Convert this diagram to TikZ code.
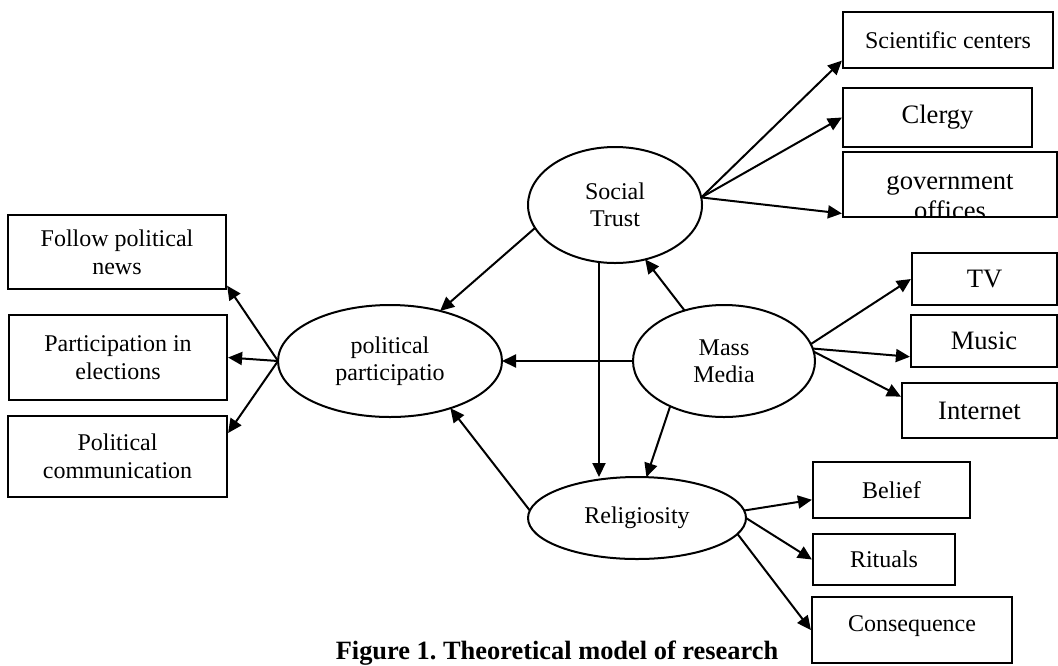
\documentclass[tikz,border=0pt]{standalone}
\usepackage{fontspec}
\setmainfont{Liberation Serif}
\usetikzlibrary{shapes.geometric,arrows.meta}

\begin{document}
\begin{tikzpicture}[x=0.5pt, y=-0.5pt,
    box/.style={draw, line width=1.1pt, inner sep=0pt, align=center, font=\fontsize{12}{14}\selectfont},
    bigbox/.style={box, font=\fontsize{13.3}{15}\selectfont},
    oval/.style={draw, ellipse, line width=1pt, inner sep=0pt, outer sep=0pt, align=center, font=\fontsize{12}{13.5}\selectfont},
    arr/.style={-{Triangle[length=7pt,width=6.5pt]}, line width=1pt}]

            \def\pxu{0.5pt};

            \useasboundingbox (0,0) rectangle (1058,665);

            % latent variables
            \node[oval, minimum width=174*\pxu, minimum height=116*\pxu] (st) at (615,205) {Social\\Trust};
            \node[oval, minimum width=182*\pxu, minimum height=112*\pxu] (mm) at (724,361) {Mass\\Media};
            \node[oval, minimum width=224*\pxu, minimum height=112*\pxu] (pp) at (390,361) {political\\participatio};
            \node[oval, minimum width=218*\pxu, minimum height=82*\pxu] (rel) at (637,518) {Religiosity};

            % indicators
            \node[box, minimum width=210*\pxu, minimum height=56*\pxu] (sci) at (948,40) {Scientific centers};
            \node[bigbox, minimum width=189*\pxu, minimum height=59*\pxu] (cle) at (937.5,117.5) {Clergy};
            \node[bigbox, minimum width=214*\pxu, minimum height=65*\pxu,
                path picture={\node[align=center, font=\fontsize{13.3}{15}\selectfont]
                    at ([yshift=-6.5pt]path picture bounding box.center) {government\\offices};}] (gov) at (950,184.5) {};
            \node[bigbox, minimum width=145*\pxu, minimum height=52*\pxu] (tv) at (984.5,279) {TV};
            \node[bigbox, minimum width=146*\pxu, minimum height=52*\pxu] (mus) at (984,341) {Music};
            \node[bigbox, minimum width=155*\pxu, minimum height=55*\pxu] (int) at (979.5,410.5) {Internet};
            \node[box, minimum width=218*\pxu, minimum height=74*\pxu] (fol) at (117,252) {Follow political\\news};
            \node[box, minimum width=218*\pxu, minimum height=85*\pxu] (ele) at (118,357.5) {Participation in\\elections};
            \node[box, minimum width=219*\pxu, minimum height=81*\pxu] (com) at (117.5,456.5) {Political\\communication};
            \node[box, minimum width=157*\pxu, minimum height=56*\pxu] (bel) at (891.5,490) {Belief};
            \node[box, minimum width=142*\pxu, minimum height=51*\pxu] (rit) at (884,559.5) {Rituals};
            \node[box, minimum width=200*\pxu, minimum height=66*\pxu,
                path picture={\node[font=\fontsize{12}{14}\selectfont]
                    at ([yshift=2pt]path picture bounding box.center) {Consequence};}] (con) at (912,630) {};

            % caption
            \node[font=\bfseries\fontsize{13.2}{15}\selectfont, anchor=base] (cap) at (557,659) {Figure 1.\ Theoretical model of research};

            % paths between variables
            \draw[arr] (st.196) -- (pp.45);
            \draw[arr] (mm.west) -- (pp.east);
            \draw[arr] (rel.176) -- (pp.-38);
            \draw[arr] ([xshift=-8pt]st.south) -- ([xshift=-8pt]st.south |- rel.north);
            \draw[arr] (mm.220) -- (rel.77);
            \draw[arr] (mm.128) -- (st.-61);

            % arrows to indicators
            \draw[arr] (st.5) -- (sci.191);
            \draw[arr] (st.5) -- (cle.west);
            \draw[arr] (st.5) -- (gov.195);
            \draw[arr] (mm.11) -- (tv.west);
            \draw[arr] (mm.8) -- (mus.192);
            \draw[arr] (mm.6) -- (int.170);
            \draw[arr] (pp.west) -- (fol.-17);
            \draw[arr] (pp.west) -- (ele.east);
            \draw[arr] (pp.west) -- (com.12);
            \draw[arr] (rel.4) -- (bel.187);
            \draw[arr] (rel.east) -- (rit.west);
            \draw[arr] (rel.-9) -- (con.west);
        \end{tikzpicture}
\end{document}
